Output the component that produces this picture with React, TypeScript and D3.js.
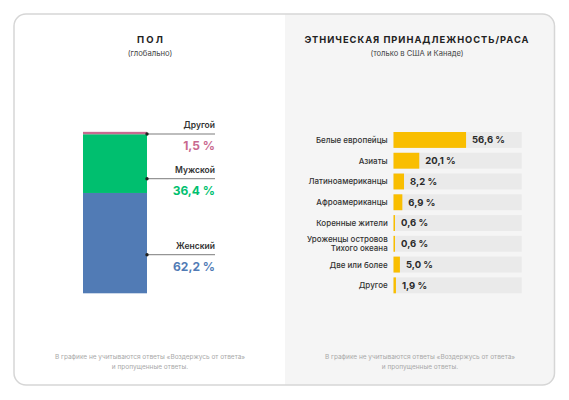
import React from "react";
import * as d3 from "d3";

// ---- Data ----
const genderCategories = ["Женский", "Мужской", "Другой"];
const genderValues = [62.2, 36.4, 1.5];
const genderLabels = ["62,2 %", "36,4 %", "1,5 %"];
const genderColors = ["#517bb5", "#00bf6f", "#c9698f"];

const ethnicCategories = [
  ["Белые европейцы"],
  ["Азиаты"],
  ["Латиноамериканцы"],
  ["Афроамериканцы"],
  ["Коренные жители"],
  ["Уроженцы островов", "Тихого океана"],
  ["Две или более"],
  ["Другое"],
];
const ethnicValues = [56.6, 20.1, 8.2, 6.9, 0.6, 0.6, 5.0, 1.9];
const ethnicLabels = ["56,6 %", "20,1 %", "8,2 %", "6,9 %", "0,6 %", "0,6 %", "5,0 %", "1,9 %"];

const leftTitle = "ПОЛ";
const leftSubtitle = "(глобально)";
const rightTitle = "ЭТНИЧЕСКАЯ ПРИНАДЛЕЖНОСТЬ/РАСА";
const rightSubtitle = "(только в США и Канаде)";
const footnote = ["В графике не учитываются ответы «Воздержусь от ответа»", "и пропущенные ответы."];

// ---- Layout ----
const W = 569;
const H = 400;
const card = { x: 14, y: 14, w: 540.5, h: 371, r: 12 };
const divX = 285;
const font = "Inter, 'Noto Sans', sans-serif";

// annotation leader line positions for gender (pixel y, per category)
const genderLineY = [254.7, 178.7, 134];

export default function App() {
  // Stacked bar
  const yStack = d3.scaleLinear().domain([0, 100]).range([293.3, 132]);
  const barX0 = 83;
  const barX1 = 147;
  const labelRight = 215;
  let cum = 0;
  const segments = genderValues.map((v, i) => {
    const s = { start: cum, end: cum + v, i };
    cum += v;
    return s;
  });

  // Horizontal bars
  const xBar = d3.scaleLinear().domain([0, 100]).range([393.5, 521.7]);
  const yBand = d3
    .scaleBand<number>()
    .domain(d3.range(ethnicValues.length))
    .range([132, 293.3])
    .paddingInner(0.235)
    .paddingOuter(0);

  return (
    <div style={{ position: "fixed", left: 0, top: 0, width: W, height: H, background: "#fff" }}>
      <svg width={W} height={H} style={{ display: "block", fontFamily: font }}>
        <defs>
          <clipPath id="cardClip">
            <rect x={card.x} y={card.y} width={card.w} height={card.h} rx={card.r} ry={card.r} />
          </clipPath>
        </defs>
        <g clipPath="url(#cardClip)">
          <rect x={card.x} y={card.y} width={card.w} height={card.h} fill="#ffffff" />
          <rect x={divX} y={card.y} width={card.x + card.w - divX} height={card.h} fill="#f5f5f5" />
        </g>
        <rect
          x={card.x}
          y={card.y}
          width={card.w}
          height={card.h}
          rx={card.r}
          ry={card.r}
          fill="none"
          stroke="#d6d6d6"
          strokeWidth={1.5}
        />

        {/* Left panel titles */}
        <text x={151} y={42.7} textAnchor="middle" fontSize={9.5} fontWeight={700} fill="#222" letterSpacing={2.2}>
          {leftTitle}
        </text>
        <text x={150} y={55.5} textAnchor="middle" fontSize={7.7} fill="#444">
          {leftSubtitle}
        </text>

        {/* Stacked bar */}
        {segments.map((s) => (
          <rect
            key={"seg" + s.i}
            x={barX0}
            y={yStack(s.end)}
            width={barX1 - barX0}
            height={yStack(s.start) - yStack(s.end)}
            fill={genderColors[s.i]}
          />
        ))}
        {genderCategories.map((c, i) => (
          <g key={"ann" + i}>
            <line x1={barX1} x2={labelRight} y1={genderLineY[i]} y2={genderLineY[i]} stroke="#444" strokeWidth={0.7} />
            <circle cx={barX1} cy={genderLineY[i]} r={1.7} fill="#222" />
            <text x={labelRight} y={genderLineY[i] - 6} textAnchor="end" fontSize={8.5} fontWeight={600} fill="#333">
              {c}
            </text>
            <text x={labelRight} y={genderLineY[i] + 16} textAnchor="end" fontSize={12} fontWeight={700} fill={genderColors[i]}>
              {genderLabels[i]}
            </text>
          </g>
        ))}

        {/* Right panel titles */}
        <text x={417} y={42.7} textAnchor="middle" fontSize={9.3} fontWeight={700} fill="#222" letterSpacing={1.0}>
          {rightTitle}
        </text>
        <text x={417} y={56.2} textAnchor="middle" fontSize={7.6} fill="#444">
          {rightSubtitle}
        </text>

        {/* Horizontal bars */}
        {ethnicValues.map((v, i) => {
          const y0 = yBand(i) as number;
          const bh = yBand.bandwidth();
          const lines = ethnicCategories[i];
          const cy = y0 + bh / 2;
          return (
            <g key={"row" + i}>
              <rect x={xBar(0)} y={y0} width={xBar(100) - xBar(0)} height={bh} fill="#eaeaea" />
              <rect x={xBar(0)} y={y0} width={Math.max(xBar(v) - xBar(0), 1.5)} height={bh} fill="#f9be00" />
              <text
                x={Math.max(xBar(v), xBar(0) + 1.5) + 6}
                y={cy + 3.4}
                fontSize={9.5}
                fontWeight={700}
                fill="#2a2a2a"
              >
                {ethnicLabels[i]}
              </text>
              {lines.map((ln, k) => (
                <text
                  key={k}
                  x={387.7}
                  y={cy + 3 + (k - (lines.length - 1) / 2) * 9}
                  textAnchor="end"
                  fontSize={8}
                  fontWeight={500}
                  fill="#333"
                >
                  {ln}
                </text>
              ))}
            </g>
          );
        })}

        {/* Footnotes */}
        {[150, 420].map((cx, j) =>
          footnote.map((ln, k) => (
            <text key={"fn" + j + k} x={cx} y={359 + k * 10} textAnchor="middle" fontSize={6.5} fill="#a8a8a8">
              {ln}
            </text>
          ))
        )}
      </svg>
    </div>
  );
}
